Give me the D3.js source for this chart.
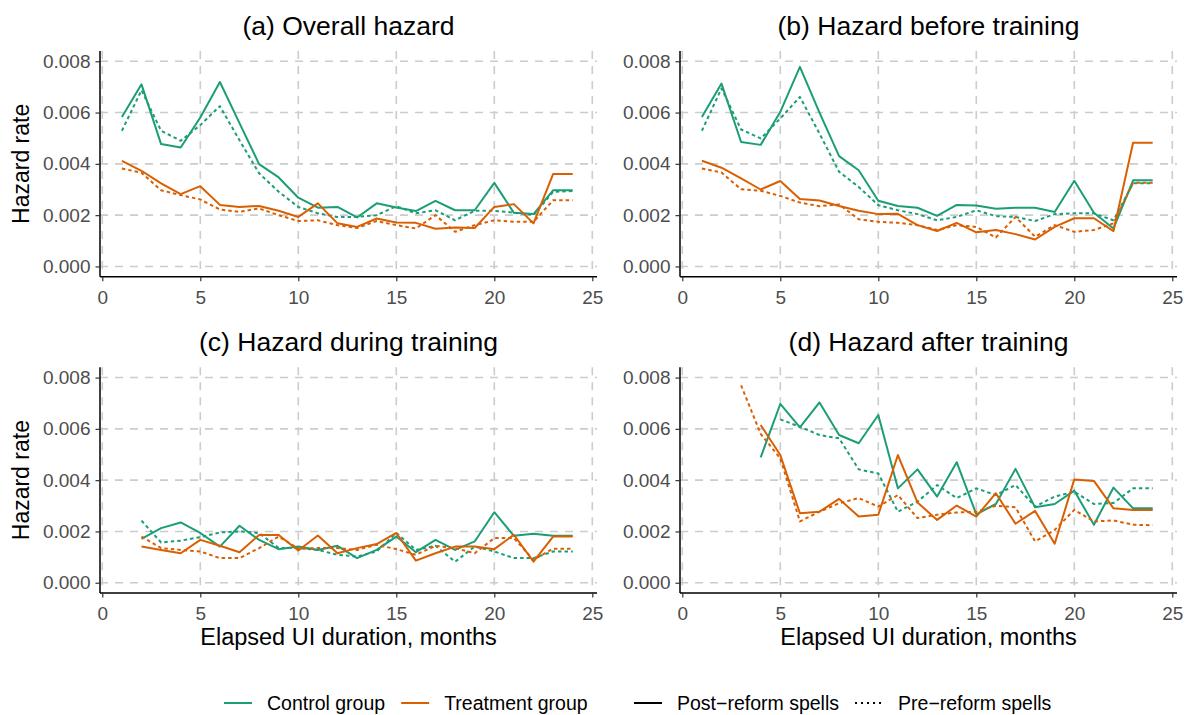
<!DOCTYPE html>
<html lang="en">
  <head>
    <meta charset="utf-8">
    <script src="https://d3js.org/d3.v7.min.js"></script>
    <style>
    body { margin: 0; background: #fff; }
    svg { font-family: "Liberation Sans", Arial, sans-serif; }
    </style>
  </head>
  <body>
    <div id="place"></div>
    <script type="text/javascript">
    // months on the x axis
    const months = d3.range(1, 25);
    const xTicks = [0, 5, 10, 15, 20, 25];
    const yTicks = [0, 0.002, 0.004, 0.006, 0.008];

    const panelTitles = ["(a) Overall hazard", "(b) Hazard before training",
                         "(c) Hazard during training", "(d) Hazard after training"];
    const groupNames = ["Control group", "Treatment group"];
    const spellNames = ["Post\u2212reform spells", "Pre\u2212reform spells"];

    // (a) overall
    const ctrlPostA = [0.00583, 0.0071, 0.00477, 0.00464, 0.00581, 0.00719, 0.00559, 0.00399, 0.00347, 0.00268, 0.00229, 0.00232, 0.00191, 0.00246, 0.0023, 0.00216, 0.00256, 0.00219, 0.00219, 0.00326, 0.00209, 0.00204, 0.00297, 0.00297];
    const ctrlPreA = [0.00529, 0.00687, 0.00529, 0.0049, 0.00551, 0.00625, 0.00492, 0.00363, 0.00291, 0.00232, 0.00207, 0.00193, 0.00193, 0.002, 0.00235, 0.00207, 0.00219, 0.0018, 0.00217, 0.00217, 0.0021, 0.002, 0.00291, 0.00294];
    const treatPostA = [0.00412, 0.00373, 0.00324, 0.00282, 0.00313, 0.0024, 0.00232, 0.00236, 0.00217, 0.00193, 0.00246, 0.00168, 0.00154, 0.00187, 0.00171, 0.0017, 0.00147, 0.00152, 0.0015, 0.00232, 0.00243, 0.00168, 0.0036, 0.0036];
    const treatPreA = [0.00382, 0.00365, 0.00297, 0.00278, 0.00261, 0.00222, 0.00213, 0.00226, 0.002, 0.00177, 0.0018, 0.00161, 0.0015, 0.00177, 0.00161, 0.00148, 0.002, 0.00135, 0.00161, 0.0018, 0.00174, 0.00174, 0.00258, 0.00258];

    // (b) before training
    const ctrlPostB = [0.00583, 0.00713, 0.00485, 0.00474, 0.00603, 0.00778, 0.006, 0.0043, 0.00375, 0.00256, 0.00236, 0.00229, 0.00197, 0.0024, 0.00238, 0.00225, 0.00229, 0.00229, 0.00212, 0.00334, 0.00209, 0.00148, 0.00336, 0.00336];
    const ctrlPreB = [0.00529, 0.00694, 0.00534, 0.00499, 0.00577, 0.00661, 0.00518, 0.00369, 0.0031, 0.00239, 0.00219, 0.00204, 0.0018, 0.00193, 0.00219, 0.00196, 0.00193, 0.00177, 0.00204, 0.00207, 0.00207, 0.0018, 0.00324, 0.00324];
    const treatPostB = [0.00412, 0.00385, 0.00343, 0.003, 0.00333, 0.00263, 0.00257, 0.00236, 0.00217, 0.00204, 0.00205, 0.00161, 0.00138, 0.0017, 0.00133, 0.00142, 0.00126, 0.00105, 0.00154, 0.00188, 0.00188, 0.00138, 0.00482, 0.00482];
    const treatPreB = [0.00382, 0.00366, 0.00301, 0.00295, 0.00275, 0.00249, 0.00235, 0.00242, 0.00184, 0.00174, 0.0017, 0.00161, 0.00142, 0.00161, 0.00154, 0.00113, 0.00193, 0.00116, 0.00161, 0.00135, 0.00142, 0.00168, 0.00326, 0.00326];

    // (c) during training
    const ctrlPostC = [null, 0.00171, 0.00213, 0.00235, 0.00194, 0.00141, 0.00222, 0.00167, 0.00131, 0.00141, 0.00128, 0.00144, 0.00096, 0.00128, 0.0018, 0.00119, 0.00167, 0.00128, 0.00161, 0.00275, 0.00183, 0.00191, 0.00183, 0.00183];
    const ctrlPreC = [null, 0.00242, 0.00157, 0.00164, 0.00178, 0.00196, 0.002, 0.00194, 0.00135, 0.00135, 0.00128, 0.00109, 0.00102, 0.00122, 0.00194, 0.00128, 0.00144, 0.00082, 0.00141, 0.00122, 0.00096, 0.00096, 0.00122, 0.00122];
    const treatPostC = [null, 0.00141, 0.00128, 0.00115, 0.00167, 0.00144, 0.00119, 0.00186, 0.00186, 0.00126, 0.00184, 0.00115, 0.00135, 0.00151, 0.00194, 0.00086, 0.00115, 0.00141, 0.00141, 0.00131, 0.00187, 0.00082, 0.0018, 0.0018];
    const treatPreC = [null, 0.0018, 0.00135, 0.00128, 0.00122, 0.00096, 0.00096, 0.00135, 0.0018, 0.00133, 0.00135, 0.00135, 0.00128, 0.00148, 0.00131, 0.00109, 0.00144, 0.00135, 0.00115, 0.00174, 0.00174, 0.00089, 0.00133, 0.00133];

    // (d) after training
    const ctrlPostD = [null, null, null, 0.00489, 0.00697, 0.00606, 0.00703, 0.00576, 0.00544, 0.00654, 0.00368, 0.00442, 0.00336, 0.0047, 0.00267, 0.00307, 0.00444, 0.00294, 0.00307, 0.00359, 0.00226, 0.00371, 0.0029, 0.0029];
    const ctrlPreD = [null, null, null, null, 0.00637, 0.00608, 0.00576, 0.00563, 0.00442, 0.00426, 0.00277, 0.00316, 0.00381, 0.0033, 0.00368, 0.00342, 0.00381, 0.00297, 0.00336, 0.00355, 0.00307, 0.00311, 0.00368, 0.00368];
    const treatPostD = [null, null, null, 0.00615, 0.00498, 0.00271, 0.00277, 0.00327, 0.00258, 0.00265, 0.00498, 0.00313, 0.00245, 0.00301, 0.00258, 0.00349, 0.0023, 0.0028, 0.00152, 0.00403, 0.00397, 0.0029, 0.00284, 0.00284];
    const treatPreD = [null, null, 0.0077, 0.0058, 0.00485, 0.00239, 0.00277, 0.0031, 0.0033, 0.00297, 0.00342, 0.00252, 0.00265, 0.00274, 0.00277, 0.003, 0.00294, 0.00161, 0.00206, 0.00284, 0.00239, 0.00243, 0.00226, 0.00224];

    const panelData = [
      [ctrlPreA, ctrlPostA, treatPreA, treatPostA],
      [ctrlPreB, ctrlPostB, treatPreB, treatPostB],
      [ctrlPreC, ctrlPostC, treatPreC, treatPostC],
      [ctrlPreD, ctrlPostD, treatPreD, treatPostD]
    ];

    const width = 1192, height = 715;
    const green = "#1b9e77", orange = "#d95f02";
    const seriesStyle = [
      { color: green, dash: "3.5,3" },
      { color: green, dash: null },
      { color: orange, dash: "3.5,3" },
      { color: orange, dash: null }
    ];

    const pw = 497, ph = 225.7;
    const lefts = [100, 680], tops = [51, 367.3];

    const svg = d3.select('#place').append('svg')
      .attr('width', width)
      .attr('height', height);

    panelTitles.forEach(function(title, i) {
      const col = i % 2, row = Math.floor(i / 2);
      const g = svg.append('g')
        .attr('transform', `translate(${lefts[col]},${tops[row]})`);

      const xScale = d3.scaleLinear().domain([-0.117, 25.24]).range([0, pw]);
      const yScale = d3.scaleLinear().domain([-0.0004, 0.0084]).range([ph, 0]);

      // dashed grid
      g.selectAll('.gx').data(xTicks).enter().append('line')
        .attr('x1', d => xScale(d)).attr('x2', d => xScale(d))
        .attr('y1', 0).attr('y2', ph)
        .attr('stroke', '#cccccc').attr('stroke-width', 1.6)
        .attr('stroke-dasharray', '8,7');
      g.selectAll('.gy').data(yTicks).enter().append('line')
        .attr('x1', 0).attr('x2', pw)
        .attr('y1', d => yScale(d)).attr('y2', d => yScale(d))
        .attr('stroke', '#cccccc').attr('stroke-width', 1.6)
        .attr('stroke-dasharray', '8,7');

      // lines
      const line = d3.line()
        .defined(d => d[1] != null)
        .x(d => xScale(d[0]))
        .y(d => yScale(d[1]));
      panelData[i].forEach(function(vals, k) {
        g.append('path')
          .datum(months.map((m, j) => [m, vals[j]]))
          .attr('fill', 'none')
          .attr('stroke', seriesStyle[k].color)
          .attr('stroke-width', 2)
          .attr('stroke-linejoin', 'round')
          .attr('stroke-dasharray', seriesStyle[k].dash)
          .attr('d', line);
      });

      // axes
      const xAxis = g.append('g')
        .attr('transform', `translate(0,${ph})`)
        .call(d3.axisBottom(xScale).tickValues(xTicks).tickSize(4.5).tickPadding(5).tickFormat(d3.format('d')));
      const yAxis = g.append('g')
        .call(d3.axisLeft(yScale).tickValues(yTicks).tickSize(4.5).tickPadding(5).tickFormat(d3.format('.3f')));
      [xAxis, yAxis].forEach(function(ax) {
        ax.select('.domain').attr('stroke', '#000').attr('stroke-width', 1.5)
          .attr('d', ax === xAxis ? `M0,0H${pw}` : `M0,0V${ph}`);
        ax.selectAll('.tick line').attr('stroke', '#333').attr('stroke-width', 1.2);
        ax.selectAll('.tick text').attr('fill', '#4d4d4d')
          .style('font-size', '19px').style('font-family', '"Liberation Sans", Arial, sans-serif');
      });
      xAxis.selectAll('.tick text').attr('dy', '0.93em');

      // title
      g.append('text')
        .attr('x', pw / 2).attr('y', -16)
        .attr('text-anchor', 'middle')
        .style('font-size', '26.5px')
        .text(title);

      if (col === 0) {
        g.append('text')
          .attr('transform', `translate(-71,${ph / 2}) rotate(-90)`)
          .attr('text-anchor', 'middle')
          .style('font-size', '23px')
          .text('Hazard rate');
      }
      if (row === 1) {
        g.append('text')
          .attr('x', pw / 2).attr('y', ph + 52)
          .attr('text-anchor', 'middle')
          .style('font-size', '23.5px')
          .text('Elapsed UI duration, months');
      }
    });

    // legends
    const legY = 703;
    function legendRow(x0, items) {
      let x = x0;
      items.forEach(function(it) {
        svg.append('line')
          .attr('x1', x).attr('x2', x + 28)
          .attr('y1', legY).attr('y2', legY)
          .attr('stroke', it.color).attr('stroke-width', 2)
          .attr('stroke-dasharray', it.dash);
        const t = svg.append('text')
          .attr('x', x + 43).attr('y', legY + 6.5)
          .style('font-size', '19.5px')
          .attr('fill', '#000')
          .text(it.label);
        x = x + 43 + t.node().getComputedTextLength() + 16;
      });
    }
    legendRow(224, [
      { label: groupNames[0], color: green, dash: null },
      { label: groupNames[1], color: orange, dash: null }
    ]);
    legendRow(634, [
      { label: spellNames[0], color: '#000', dash: null },
      { label: spellNames[1], color: '#000', dash: '2,4' }
    ]);
    </script>
  </body>
</html>
